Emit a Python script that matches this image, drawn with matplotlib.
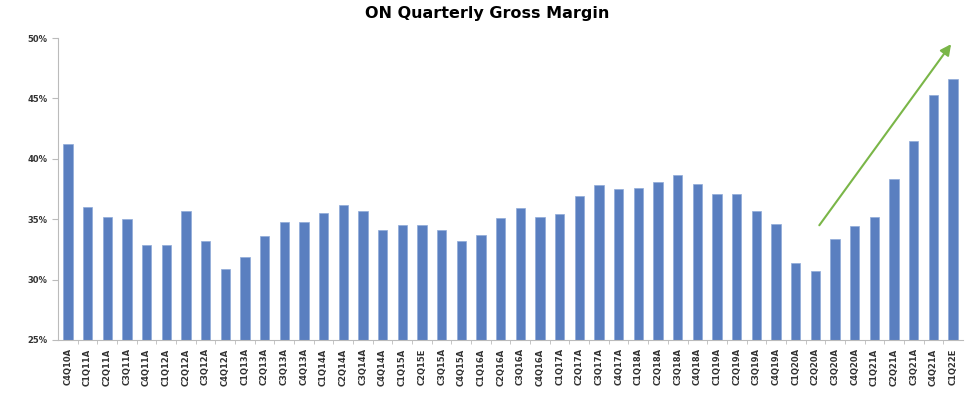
import numpy as np
import matplotlib.pyplot as plt
from matplotlib.ticker import PercentFormatter

# Trimestres
trimestres = ['C4Q10A', 'C1Q11A', 'C2Q11A', 'C3Q11A', 'C4Q11A', 'C1Q12A', 'C2Q12A', 'C3Q12A',
              'C4Q12A', 'C1Q13A', 'C2Q13A', 'C3Q13A', 'C4Q13A', 'C1Q14A', 'C2Q14A', 'C3Q14A',
              'C4Q14A', 'C1Q15A', 'C2Q15E', 'C3Q15A', 'C4Q15A', 'C1Q16A', 'C2Q16A', 'C3Q16A',
              'C4Q16A', 'C1Q17A', 'C2Q17A', 'C3Q17A', 'C4Q17A', 'C1Q18A', 'C2Q18A', 'C3Q18A',
              'C4Q18A', 'C1Q19A', 'C2Q19A', 'C3Q19A', 'C4Q19A', 'C1Q20A', 'C2Q20A', 'C3Q20A',
              'C4Q20A', 'C1Q21A', 'C2Q21A', 'C3Q21A', 'C4Q21A', 'C1Q22E']

# Margen bruto (%)
margen = [41.2, 36.0, 35.2, 35.0, 32.9, 32.9, 35.7, 33.2, 30.9, 31.9, 33.6, 34.8,
          34.8, 35.5, 36.2, 35.7, 34.1, 34.5, 34.5, 34.1, 33.2, 33.7, 35.1, 35.9,
          35.2, 35.4, 36.9, 37.8, 37.5, 37.6, 38.1, 38.7, 37.9, 37.1, 37.1, 35.7,
          34.6, 31.4, 30.7, 33.4, 34.4, 35.2, 38.3, 41.5, 45.3, 46.6]

# Flecha de tendencia (indice de trimestre, %)
flecha_inicio = (38.2, 34.5)
flecha_fin = (44.9, 49.5)

fig = plt.figure(figsize=(9.74, 3.97), dpi=100)
ax = fig.add_axes([0.0596, 0.1436, 0.929, 0.7604])

x = np.arange(len(trimestres))
ax.bar(x, margen, width=0.48, color='#5A7FC0', edgecolor='#8FAAD8', linewidth=0.5)

ax.annotate('', xy=flecha_fin, xytext=flecha_inicio,
            arrowprops=dict(arrowstyle='-|>', color='#7AB648', lw=1.5,
                            mutation_scale=16, shrinkA=0, shrinkB=0))

ax.set_ylim(25, 50)
ax.set_xlim(-0.5, len(trimestres) - 0.5)
ax.set_yticks(np.arange(25, 51, 5))
ax.yaxis.set_major_formatter(PercentFormatter(decimals=0))
ax.set_xticks(x)
ax.set_xticklabels(trimestres, rotation=90, fontsize=6, fontweight='bold', color='#333333')
ax.set_xticks(x[:-1] + 0.5, minor=True)
ax.tick_params(axis='x', which='major', length=0, pad=6)
ax.tick_params(axis='x', which='minor', length=3, color='#BBBBBB')
ax.tick_params(axis='y', length=4, color='#BBBBBB', labelsize=6, labelcolor='#333333')
for lab in ax.get_yticklabels():
    lab.set_fontweight('bold')

for lado in ['top', 'right']:
    ax.spines[lado].set_visible(False)
ax.spines['left'].set_color('#BBBBBB')
ax.spines['bottom'].set_color('#BBBBBB')

fig.suptitle('ON Quarterly Gross Margin', fontsize=11.5, fontweight='bold', y=0.985)

plt.savefig('out.png', dpi=100)
